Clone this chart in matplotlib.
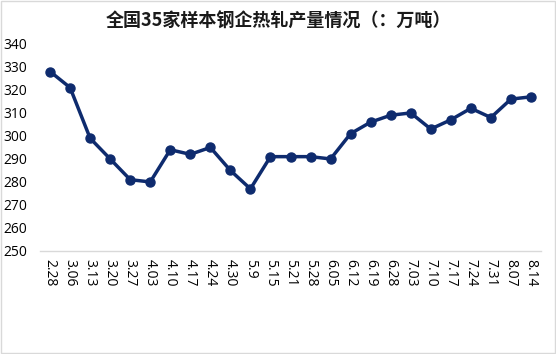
import matplotlib.pyplot as plt
from matplotlib.patches import Rectangle

# Data
dates = ['2.28', '3.06', '3.13', '3.20', '3.27', '4.03', '4.10', '4.17', '4.24', '4.30',
         '5.9', '5.15', '5.21', '5.28', '6.05', '6.12', '6.19', '6.28', '7.03', '7.10',
         '7.17', '7.24', '7.31', '8.07', '8.14']
output = [328, 321, 299, 290, 281, 280, 294, 292, 295, 285,
          277, 291, 291, 291, 290, 301, 306, 309, 310, 303,
          307, 312, 308, 316, 317]
y_ticks = list(range(250, 341, 10))

plt.rcParams['font.family'] = ['Noto Sans CJK SC', 'DejaVu Sans']

fig = plt.figure(figsize=(5.56, 3.54), dpi=100)
ax = fig.add_axes([0.072, 0.291, 0.901, 0.585])

x = list(range(len(dates)))
ax.plot(x, output, color='#0e2b6e', linewidth=2.5, marker='o', markersize=6.5,
        markerfacecolor='#0e2b6e', markeredgecolor='#0e2b6e')

ax.set_xlim(-0.5, len(dates) - 0.5)
ax.set_ylim(250, 340)
ax.set_yticks(y_ticks)
ax.set_xticks(x)
ax.set_xticklabels(dates, rotation=-90, family=['Open Sans', 'DejaVu Sans'], fontsize=10)
for lbl in ax.get_yticklabels():
    lbl.set_family(['Open Sans', 'DejaVu Sans'])
    lbl.set_fontsize(10)
ax.tick_params(axis='both', length=0, colors='#000000')
ax.tick_params(axis='y', pad=9)
ax.tick_params(axis='x', pad=6)

for side in ['top', 'right', 'left']:
    ax.spines[side].set_visible(False)
ax.spines['bottom'].set_color('#d9d9d9')
ax.spines['bottom'].set_linewidth(1.0)

fig.text(0.5, 0.94, '全国35家样本钢企热轧产量情况（：万吨）', ha='center', va='center',
         fontsize=13, fontweight='bold', color='#1a1a1a')

# Light chart-area border
fig.patches.append(Rectangle((0.001, 0.002), 0.997, 0.995, transform=fig.transFigure,
                             fill=False, edgecolor='#d9d9d9', linewidth=1.0))

fig.savefig('out.png', dpi=100, facecolor='white')
